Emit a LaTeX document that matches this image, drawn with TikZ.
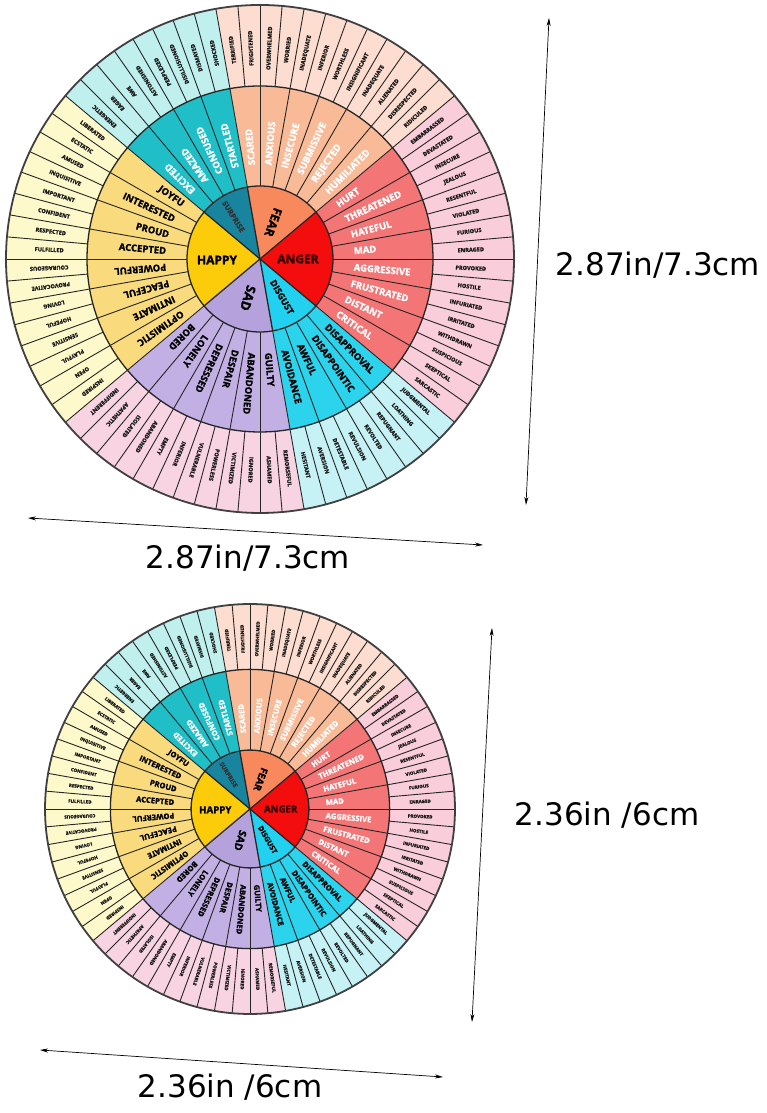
\documentclass[tikz,border=0pt]{standalone}
\usepackage{fontspec}
\setmainfont{Open Sans}
\newfontfamily\heavyfont{Open Sans}[FakeBold=1.6]
\newfontfamily\dimfont{DejaVu Sans}
\usetikzlibrary{arrows.meta}

% ring colours: C core, M middle, O outer
\definecolor{sadC}{HTML}{B5A2DC}
\definecolor{sadM}{HTML}{C2B0E5}
\definecolor{sadO}{HTML}{F8D4E3}
\definecolor{disgustC}{HTML}{22D1EF}
\definecolor{disgustM}{HTML}{2CD3EC}
\definecolor{disgustO}{HTML}{C6F2F6}
\definecolor{angerC}{HTML}{F30D0D}
\definecolor{angerM}{HTML}{F47575}
\definecolor{angerO}{HTML}{F9CDDA}
\definecolor{fearC}{HTML}{F8895D}
\definecolor{fearM}{HTML}{F9BA98}
\definecolor{fearO}{HTML}{FCDDCF}
\definecolor{surpriseC}{HTML}{19849D}
\definecolor{surpriseM}{HTML}{20BFC7}
\definecolor{surpriseO}{HTML}{C0F0EE}
\definecolor{happyC}{HTML}{FCCB0A}
\definecolor{happyM}{HTML}{F9DB7D}
\definecolor{happyO}{HTML}{FDF9CA}

\def\rcore{73}
\def\rmid{173}
\def\rout{254}
\def\rtext{94}

\tikzset{
  rim/.style={draw=black!85,line width=1.3pt},
  spoke/.style={draw=black!85,line width=0.9pt},
  edge/.style={draw=black!75,line width=1.8pt},
  outerword/.style={font=\heavyfont\bfseries\fontsize{5.6}{6}\selectfont,inner sep=0pt,text=black!90},
  midword/.style={font=\heavyfont\bfseries\fontsize{9.5}{10}\selectfont,inner sep=0pt},
  coreword/.style={font=\heavyfont\bfseries\fontsize{12}{12}\selectfont,inner sep=0pt},
  dimline/.style={line width=0.7pt,{Stealth[length=8pt,width=4pt]}-{Stealth[length=8pt,width=4pt]}},
  dimlabel/.style={font=\dimfont\fontsize{31}{36}\selectfont,inner sep=0pt}
}

% #1 name prefix, #2/#3 centre, #4 scale
\newcommand{\emowheel}[4]{%
\begin{scope}[shift={(#2,#3)},scale=#4,transform shape]
  \foreach \a/\b/\grp in {-140/-80/sad,-80/-40/disgust,-40/40/anger,40/100/fear,100/140/surprise,140/220/happy}{
    \fill[fill=\grp O] (\a:\rmid) arc[start angle=\a,end angle=\b,radius=\rmid]
      -- (\b:\rout) arc[start angle=\b,end angle=\a,radius=\rout] -- cycle;
    \fill[fill=\grp M] (\a:\rcore) arc[start angle=\a,end angle=\b,radius=\rcore]
      -- (\b:\rmid) arc[start angle=\b,end angle=\a,radius=\rmid] -- cycle;
    \fill[fill=\grp C] (0,0) -- (\a:\rcore) arc[start angle=\a,end angle=\b,radius=\rcore] -- cycle;
  }
  \foreach \k in {0,...,71}
    \draw[spoke] ({-140+5*\k}:\rmid) -- ({-140+5*\k}:\rout);
  \foreach \k in {0,...,35}
    \draw[spoke] ({-140+10*\k}:\rcore) -- ({-140+10*\k}:\rmid);
  \foreach \a in {-140,-80,-40,40,100,140}
    \draw[rim] (0,0) -- (\a:\rcore);
  \draw[rim] (0,0) circle[radius=\rcore];
  \draw[rim] (0,0) circle[radius=\rmid];
  \draw[edge] (0,0) circle[radius=\rout];
  % outer ring
  \foreach \w [count=\i from 0] in {INDIFFERENT,APATHETIC,ISOLATED,ABANDONED,EMPTY,INFERIOR,
      VULNERABLE,POWERLESS,VICTIMIZED,IGNORED,ASHAMED,REMORSEFUL,
      HESITANT,AVERSION,DETESTABLE,REVULSION,REVOLTED,REPUGNANT,LOATHING,JUDGMENTAL,
      SARCASTIC,SKEPTICAL,SUSPICIOUS,WITHDRAWN,IRRITATED,INFURIATED,HOSTILE,PROVOKED,
      ENRAGED,FURIOUS,VIOLATED,RESENTFUL,JEALOUS,INSECURE,DEVASTATED,EMBARRASSED,
      RIDICULED,DISRESPECTED,ALIENATED,INADEQUATE,INSIGNIFICANT,WORTHLESS,
      INFERIOR,INADEQUATE,WORRIED,OVERWHELMED,FRIGHTENED,TERRIFIED,
      SHOCKED,DISMAYED,DISILLUSIONED,PERPLEXED,ASTONISHED,AWE,EAGER,ENERGETIC,
      LIBERATED,ECSTATIC,AMUSED,INQUISITIVE,IMPORTANT,CONFIDENT,RESPECTED,FULFILLED,
      COURAGEOUS,PROVOCATIVE,LOVING,HOPEFUL,SENSITIVE,PLAYFUL,OPEN,INSPIRED}{
    \pgfmathsetmacro\ang{-137.5+5*\i}
    \pgfmathsetmacro\rot{(\ang>140 && \ang<180) ? \ang+180 : \ang}
    \node[outerword,rotate=\rot] (#1-o\i) at (\ang:211) {\w};
  }
  % middle ring
  \foreach \w [count=\i from 0] in {BORED,LONELY,DEPRESSED,DESPAIR,ABANDONED,GUILTY,
      AVOIDANCE,AWFUL,DISAPPOINTIC,DISAPPROVAL,
      CRITICAL,DISTANT,FRUSTRATED,AGGRESSIVE,MAD,HATEFUL,THREATENED,HURT,
      HUMILIATED,REJECTED,SUBMISSIVE,INSECURE,ANXIOUS,SCARED,
      STARTLED,CONFUSED,AMAZED,EXCITED,
      JOYFU,INTERESTED,PROUD,ACCEPTED,POWERFUL,PEACEFUL,INTIMATE,OPTIMISTIC}{
    \pgfmathsetmacro\ang{-135+10*\i}
    \pgfmathtruncatemacro\inw{(\ang>140 && \ang<180) ? 1 : 0}
    \pgfmathtruncatemacro\wht{(\ang>-40 && \ang<140) ? 1 : 0}
    \ifnum\wht=1 \def\tc{white}\else\def\tc{black}\fi
    \ifnum\inw=1
      \node[midword,text=\tc,rotate=\ang+180,anchor=east] (#1-m\i) at (\ang:\rtext) {\w};
    \else
      \node[midword,text=\tc,rotate=\ang,anchor=west] (#1-m\i) at (\ang:\rtext) {\w};
    \fi
  }
  % core
  \node[coreword] (#1-happy) at (-43,-1) {HAPPY};
  \node[coreword,text=black!80!red] (#1-anger) at (38,0) {ANGER};
  \node[coreword,rotate=250] (#1-fear) at (70:39) {FEAR};
  \node[coreword,font=\heavyfont\bfseries\fontsize{7.5}{8}\selectfont,text=black!80,rotate=302] (#1-surprise) at (122:50) {SURPRISE};
  \node[coreword,font=\heavyfont\bfseries\fontsize{13}{13}\selectfont,rotate=-107] (#1-sad) at (-107:41) {SAD};
  \node[coreword,font=\heavyfont\bfseries\fontsize{9}{9}\selectfont,rotate=-60] (#1-disgust) at (-60:44) {DISGUST};
\end{scope}}

\begin{document}
\begin{tikzpicture}[x=1pt,y=1pt]
\fill[white] (0,0) rectangle (766,1113);
\useasboundingbox (0,0) rectangle (766,1113);

\emowheel{big}{260}{854}{1}
\emowheel{small}{250}{304}{0.807}

% size marks, big wheel
\coordinate (bigtop) at (549,1095);
\coordinate (bigbot) at (526,608);
\coordinate (bigleft) at (28,595);
\coordinate (bigright) at (483,568);
\draw[dimline] (bigtop) -- (bigbot);
\draw[dimline] (bigleft) -- (bigright);
\node[dimlabel] (bighgt) at (658,848) {2.87in/7.3cm};
\node[dimlabel] (bigwid) at (248,555) {2.87in/7.3cm};

% size marks, small wheel
\coordinate (smalltop) at (492,485);
\coordinate (smallbot) at (472,91);
\coordinate (smallleft) at (40,63);
\coordinate (smallright) at (443,36);
\draw[dimline] (smalltop) -- (smallbot);
\draw[dimline] (smallleft) -- (smallright);
\node[dimlabel] (smallhgt) at (607,298) {2.36in /6cm};
\node[dimlabel] (smallwid) at (230,26) {2.36in /6cm};
\end{tikzpicture}
\end{document}
